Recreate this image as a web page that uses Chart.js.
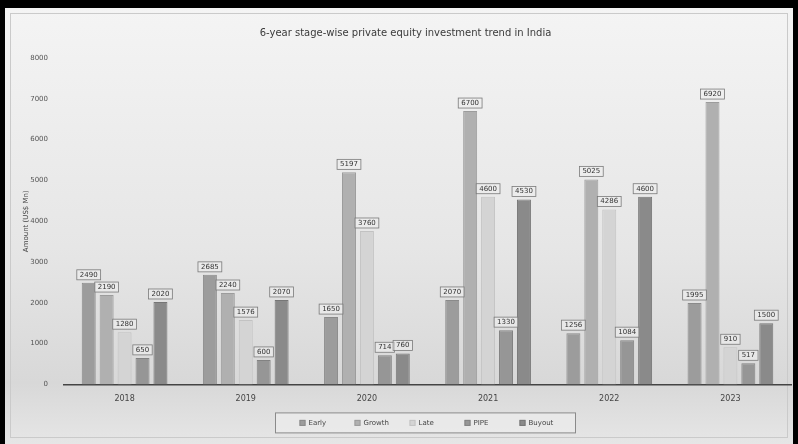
<!DOCTYPE html>
<html>
<head>
<meta charset="utf-8">
<script src="https://cdn.jsdelivr.net/npm/chart.js@4/dist/chart.umd.min.js"></script>
<style>
  html, body { margin: 0; padding: 0; background: #000; }
  #wrap { width: 798px; height: 444px; position: relative; }
  canvas { display: block; }
</style>
</head>
<body>
<div id="wrap"><canvas id="c" width="798" height="444"></canvas></div>
<script>
// Years on the category axis
const years = ['2018', '2019', '2020', '2021', '2022', '2023'];

// Investment by stage, US$ Mn
const early  = [2490, 2685, 1650, 2070, 1256, 1995];
const growth = [2190, 2240, 5197, 6700, 5025, 6920];
const late   = [1280, 1576, 3760, 4600, 4286, 910];
const pipe   = [650, 600, 714, 1330, 1084, 517];
const buyout = [2020, 2070, 760, 4530, 4600, 1500];

const stageNames = ['Early', 'Growth', 'Late', 'PIPE', 'Buyout'];
const yTicks = [0, 1000, 2000, 3000, 4000, 5000, 6000, 7000, 8000];

const fills = ['#9c9c9c', '#b0b0b0', '#d4d4d4', '#969696', '#8a8a8a'];
const edges = ['#8a8a8a', '#9c9c9c', '#c2c2c2', '#828282', '#767676'];

const FONT = '"DejaVu Sans", sans-serif';

// Black frame and shaded panel behind the chart
const framePlugin = {
  id: 'frame',
  beforeDraw(chart) {
    const ctx = chart.ctx;
    const w = chart.width, h = chart.height;
    ctx.save();
    ctx.fillStyle = '#000';
    ctx.fillRect(0, 0, w, h);
    const g = ctx.createLinearGradient(0, 8, 0, h);
    g.addColorStop(0, '#f4f4f4');
    g.addColorStop(0.55, '#e6e6e6');
    g.addColorStop(0.86, '#d8d8d8');
    g.addColorStop(1, '#e6e6e6');
    ctx.fillStyle = g;
    ctx.fillRect(5, 8, w - 10, h - 8);
    ctx.strokeStyle = '#cacaca';
    ctx.lineWidth = 1;
    ctx.strokeRect(10.5, 13.5, w - 21, h - 20);
    ctx.restore();
  }
};

// Value labels in small boxes above each bar, and the boxed legend below the axis
const labelPlugin = {
  id: 'valueLabels',
  afterDatasetsDraw(chart) {
    const ctx = chart.ctx;
    ctx.save();
    ctx.font = '7px ' + FONT;
    ctx.textAlign = 'center';
    ctx.textBaseline = 'middle';
    chart.data.datasets.forEach((ds, di) => {
      const meta = chart.getDatasetMeta(di);
      meta.data.forEach((bar, i) => {
        const txt = String(ds.data[i]);
        const tw = ctx.measureText(txt).width;
        const cy = bar.y - 8;
        ctx.fillStyle = 'rgba(238,238,238,0.6)';
        ctx.fillRect(bar.x - tw / 2 - 3, cy - 5, tw + 6, 10);
        ctx.strokeStyle = '#7a7a7a';
        ctx.lineWidth = 0.8;
        ctx.strokeRect(bar.x - tw / 2 - 3, cy - 5, tw + 6, 10);
        ctx.fillStyle = '#333';
        ctx.fillText(txt, bar.x, cy);
      });
    });
    ctx.restore();
  },
  afterDraw(chart) {
    const ctx = chart.ctx;
    const area = chart.chartArea;
    const slot = 55;
    const n = chart.data.datasets.length;
    const boxW = 300, boxH = 20;
    const cx = 425;
    const left = cx - boxW / 2;
    const top = area.bottom + 28;
    ctx.save();
    ctx.fillStyle = 'rgba(236,236,236,0.7)';
    ctx.fillRect(left, top, boxW, boxH);
    ctx.strokeStyle = '#8a8a8a';
    ctx.lineWidth = 1;
    ctx.strokeRect(left + 0.5, top + 0.5, boxW, boxH);
    ctx.font = '7px ' + FONT;
    ctx.textBaseline = 'middle';
    ctx.textAlign = 'left';
    const startX = cx - (slot * n) / 2 + 12;
    chart.data.datasets.forEach((ds, k) => {
      const x = startX + k * slot;
      const y = top + boxH / 2 + 0.5;
      ctx.fillStyle = ds.backgroundColor;
      ctx.fillRect(x, y - 3, 6, 6);
      ctx.strokeStyle = ds.borderColor;
      ctx.strokeRect(x + 0.5, y - 2.5, 5, 5);
      ctx.fillStyle = '#444';
      ctx.fillText(ds.label, x + 9, y);
    });
    ctx.restore();
  }
};

new Chart(document.getElementById('c'), {
  type: 'bar',
  data: {
    labels: years,
    datasets: [early, growth, late, pipe, buyout].map((vals, k) => ({
      label: stageNames[k],
      data: vals,
      backgroundColor: fills[k],
      borderColor: edges[k],
      borderWidth: 1,
      categoryPercentage: 0.74,
      barPercentage: 0.78
    }))
  },
  options: {
    responsive: false,
    animation: false,
    layout: { padding: { left: 20, right: 7, top: 0, bottom: 38 } },
    plugins: {
      title: {
        display: true,
        text: '6-year stage-wise private equity investment trend in India',
        color: '#3a3a3a',
        font: { family: FONT, size: 10, weight: 'normal' },
        padding: { top: 27, bottom: 19 }
      },
      legend: { display: false },
      tooltip: { enabled: false }
    },
    scales: {
      x: {
        grid: { display: false },
        border: { display: true, color: '#444', width: 1.5 },
        ticks: { color: '#444', font: { family: FONT, size: 8 }, padding: 2 }
      },
      y: {
        min: 0,
        max: 8000,
        afterBuildTicks(scale) { scale.ticks = yTicks.map(v => ({ value: v })); },
        afterFit(scale) { scale.width = 44; },
        grid: { display: false },
        border: { display: false },
        ticks: {
          color: '#555',
          font: { family: FONT, size: 7 },
          padding: 8,
          callback: v => String(v)
        },
        title: {
          display: true,
          text: 'Amount (US$ Mn)',
          color: '#444',
          font: { family: FONT, size: 7 },
          padding: 2
        }
      }
    }
  },
  plugins: [framePlugin, labelPlugin]
});
</script>
</body>
</html>
